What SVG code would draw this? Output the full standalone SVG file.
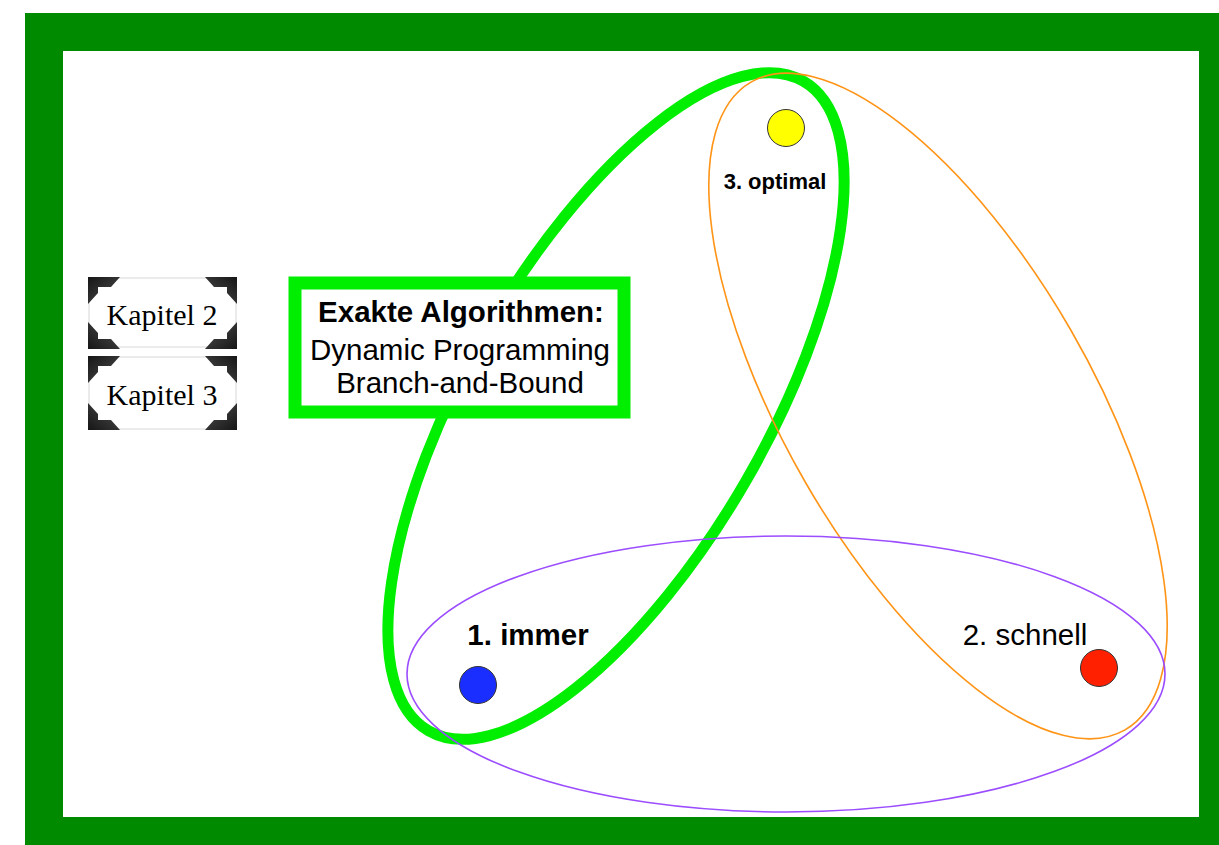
<svg xmlns="http://www.w3.org/2000/svg" xmlns:xlink="http://www.w3.org/1999/xlink" width="1219" height="845" viewBox="0 0 1219 845">
  <style>
    .sans { font-family: "Liberation Sans", Arial, sans-serif; fill: #000; }
    .serif { font-family: "Liberation Serif", "Times New Roman", serif; fill: #000; }
    .dot { stroke: #333; stroke-width: 1; }
    .set { fill: none; }
  </style>
  <defs>
    <linearGradient id="cornerGrad" x1="0" y1="0" x2="1" y2="1">
      <stop offset="0" stop-color="#161616"/>
      <stop offset="0.5" stop-color="#333"/>
      <stop offset="1" stop-color="#6a6a6a"/>
    </linearGradient>
    <path id="corner" d="M0,0 H32 L23,10 H10 V16 L0,27 Z" fill="url(#cornerGrad)"/>
  </defs>

  <!-- frame -->
  <rect x="0" y="0" width="1219" height="845" fill="#fff"/>
  <rect x="25" y="13" width="1194" height="832" fill="#008a00"/>
  <rect x="63" y="51" width="1136" height="766" fill="#fff"/>

  <!-- sets -->
  <g id="set-exact">
    <ellipse class="set" cx="616" cy="406" rx="375" ry="150" transform="rotate(-60 616 406)" stroke="#00ee00" stroke-width="11"/>
  </g>

  <g id="box-exact">
    <rect x="295" y="283" width="329" height="129" fill="#fff" stroke="#00ee00" stroke-width="13"/>
    <text class="sans" x="461" y="322" text-anchor="middle" font-size="29.5" font-weight="bold">Exakte Algorithmen:</text>
    <text class="sans" x="460" y="360" text-anchor="middle" font-size="29.5">Dynamic Programming</text>
    <text class="sans" x="460" y="393" text-anchor="middle" font-size="29.5">Branch-and-Bound</text>
  </g>

  <g id="set-optimal-fast">
    <ellipse class="set" cx="938" cy="406" rx="374" ry="153" transform="rotate(60 938 406)" stroke="#ff9416" stroke-width="1.6"/>
  </g>
  <g id="set-always-fast">
    <ellipse class="set" cx="786" cy="674" rx="379" ry="138" stroke="#9b4dff" stroke-width="1.6"/>
  </g>

  <g id="connectors"></g>

  <!-- property nodes -->
  <g id="node-optimal">
    <circle class="dot" cx="786" cy="128" r="18.5" fill="#ffff00"/>
    <text class="sans" x="775" y="189" text-anchor="middle" font-size="22" font-weight="bold">3. optimal</text>
  </g>
  <g id="node-immer">
    <circle class="dot" cx="478" cy="685" r="18.5" fill="#1a2eff"/>
    <text class="sans" x="528" y="645" text-anchor="middle" font-size="29.5" font-weight="bold">1. immer</text>
  </g>
  <g id="node-schnell">
    <circle class="dot" cx="1099" cy="668" r="18.5" fill="#ff2000"/>
    <text class="sans" x="1025" y="645" text-anchor="middle" font-size="29.5">2. schnell</text>
  </g>

  <!-- chapter buttons -->
  <g id="btn-kapitel2">
    <rect x="89" y="278" width="147" height="69" fill="#fff" stroke="#d8d8d8" stroke-width="1"/>
    <use xlink:href="#corner" transform="translate(88,277)"/>
    <use xlink:href="#corner" transform="translate(237,277) scale(-1,1)"/>
    <use xlink:href="#corner" transform="translate(88,349) scale(1,-1)"/>
    <use xlink:href="#corner" transform="translate(237,349) scale(-1,-1)"/>
    <text class="serif" x="162" y="325" text-anchor="middle" font-size="30">Kapitel 2</text>
  </g>
  <g id="btn-kapitel3">
    <rect x="89" y="357" width="147" height="72" fill="#fff" stroke="#d8d8d8" stroke-width="1"/>
    <use xlink:href="#corner" transform="translate(88,356)"/>
    <use xlink:href="#corner" transform="translate(237,356) scale(-1,1)"/>
    <use xlink:href="#corner" transform="translate(88,430) scale(1,-1)"/>
    <use xlink:href="#corner" transform="translate(237,430) scale(-1,-1)"/>
    <text class="serif" x="162" y="405" text-anchor="middle" font-size="30">Kapitel 3</text>
  </g>
</svg>
